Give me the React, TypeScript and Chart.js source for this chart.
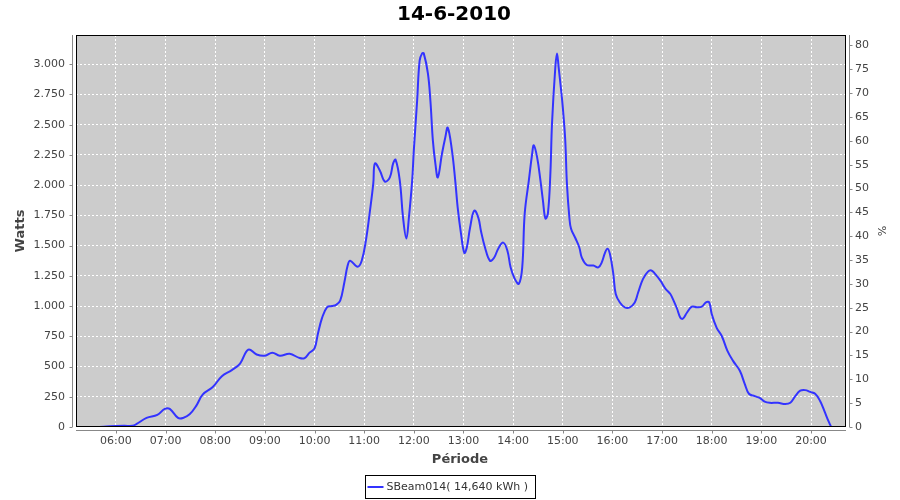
import React, { useEffect, useRef } from 'react';
import { Chart, registerables } from 'chart.js';

Chart.register(...registerables);

const chartTitle = '14-6-2010';
const seriesName = 'SBeam014( 14,640 kWh )';
const xAxisTitle = 'Période';
const leftAxisTitle = 'Watts';
const rightAxisTitle = '%';

const times = [
  '05:27', '05:45', '06:00', '06:10', '06:20', '06:25', '06:37', '06:50', '06:59', '07:05',
  '07:15', '07:21', '07:29', '07:37', '07:45', '07:57', '08:08', '08:20', '08:30', '08:40',
  '08:50', '09:00', '09:09', '09:18', '09:30', '09:42', '09:48', '09:54', '10:00', '10:04',
  '10:09', '10:15', '10:21', '10:26', '10:31', '10:36', '10:40', '10:43', '10:52', '10:57',
  '11:02', '11:07', '11:11', '11:13', '11:19', '11:25', '11:31', '11:35', '11:38', '11:43',
  '11:47', '11:51', '11:54', '11:58', '12:00', '12:04', '12:07', '12:10', '12:12', '12:17',
  '12:20', '12:23', '12:26', '12:29', '12:34', '12:38', '12:41', '12:46', '12:50', '12:53',
  '12:57', '13:01', '13:04', '13:08', '13:13', '13:18', '13:21', '13:26', '13:32', '13:37',
  '13:42', '13:48', '13:53', '13:57', '14:02', '14:07', '14:11', '14:14', '14:19', '14:23',
  '14:25', '14:29', '14:33', '14:36', '14:39', '14:42', '14:45', '14:47', '14:51', '14:53',
  '14:55', '14:58', '15:00', '15:03', '15:05', '15:08', '15:10', '15:15', '15:20', '15:23',
  '15:29', '15:37', '15:43', '15:47', '15:51', '15:54', '15:57', '16:01', '16:04', '16:09',
  '16:15', '16:21', '16:27', '16:31', '16:37', '16:43', '16:47', '16:51', '16:58', '17:04',
  '17:10', '17:13', '17:18', '17:22', '17:25', '17:30', '17:36', '17:42', '17:48', '17:53',
  '17:57', '18:00', '18:06', '18:12', '18:19', '18:26', '18:34', '18:40', '18:45', '18:52',
  '18:58', '19:04', '19:10', '19:20', '19:29', '19:35', '19:41', '19:47', '19:53', '19:59',
  '20:05', '20:11', '20:16', '20:21', '20:24',
];

const watts = [
  0, 3, 8, 10, 10, 25, 75, 100, 150, 150,
  75, 75, 105, 175, 270, 330, 420, 470, 525, 640,
  600, 590, 615, 590, 605, 570, 570, 615, 650, 770,
  900, 990, 1000, 1010, 1045, 1195, 1335, 1375, 1325, 1375,
  1540, 1790, 2015, 2180, 2120, 2030, 2065, 2180, 2210, 2040,
  1730, 1560, 1730, 2040, 2290, 2700, 3030, 3090, 3090, 2925,
  2700, 2370, 2180, 2065, 2260, 2395, 2475, 2290, 2040, 1815,
  1600, 1440, 1485, 1650, 1790, 1730, 1625, 1485, 1375, 1400,
  1475, 1525, 1460, 1320, 1225, 1185, 1320, 1765, 2040, 2260,
  2330, 2230, 2040, 1875, 1725, 1765, 2095, 2510, 2975, 3090,
  2975, 2785, 2645, 2370, 2015, 1730, 1640, 1565, 1485, 1400,
  1340, 1335, 1320, 1360, 1440, 1475, 1430, 1270, 1100, 1030,
  990, 990, 1030, 1110, 1225, 1285, 1295, 1270, 1210, 1145,
  1100, 1060, 980, 905, 895, 945, 995, 990, 995, 1030,
  1030, 935, 820, 755, 630, 545, 465, 355, 275, 255,
  240, 210, 200, 200, 190, 200, 255, 300, 305, 290,
  275, 215, 135, 50, 5,
];

const xTickLabels = [
  '06:00', '07:00', '08:00', '09:00', '10:00', '11:00', '12:00', '13:00',
  '14:00', '15:00', '16:00', '17:00', '18:00', '19:00', '20:00',
];
const wattTicks = [0, 250, 500, 750, 1000, 1250, 1500, 1750, 2000, 2250, 2500, 2750, 3000];
const pctTicks = [0, 5, 10, 15, 20, 25, 30, 35, 40, 45, 50, 55, 60, 65, 70, 75, 80];

const toMin = (s: string) => {
  const [h, m] = s.split(':').map(Number);
  return h * 60 + m;
};
const fmtTime = (v: number) => {
  const h = Math.floor(v / 60);
  const m = Math.round(v - h * 60);
  return String(h).padStart(2, '0') + ':' + String(m).padStart(2, '0');
};
const fmtWatts = (v: number) => {
  const s = String(Math.round(v));
  return s.replace(/\B(?=(\d{3})+(?!\d))/g, '.');
};

const FONT = '"DejaVu Sans", sans-serif';
const LINE_COLOR = '#3333ff';
const AXIS_GRAY = '#888888';
const TEXT_GRAY = '#444444';

const decorPlugin = {
  id: 'decor',
  beforeDraw(chart: any) {
    const { ctx, chartArea } = chart;
    const { left, right, top, bottom } = chartArea;
    ctx.save();
    ctx.fillStyle = '#ffffff';
    ctx.fillRect(0, 0, chart.width, chart.height);
    ctx.fillStyle = '#cccccc';
    ctx.fillRect(left, top, right - left, bottom - top);
    ctx.restore();
  },
  afterDraw(chart: any) {
    const { ctx, chartArea, scales } = chart;
    const { left, right, top, bottom } = chartArea;
    ctx.save();
    // plot border
    ctx.strokeStyle = '#000000';
    ctx.lineWidth = 1;
    ctx.strokeRect(left + 0.5, top + 0.5, right - left - 1, bottom - top - 1);

    // axis lines (offset) and tick marks
    ctx.strokeStyle = AXIS_GRAY;
    ctx.beginPath();
    const lx = left - 3.5;
    ctx.moveTo(lx, top);
    ctx.lineTo(lx, bottom);
    scales.y.ticks.forEach((t: any) => {
      const y = Math.round(scales.y.getPixelForValue(t.value)) + 0.5;
      ctx.moveTo(lx, y);
      ctx.lineTo(lx - 3, y);
    });
    const rx = right + 3.5;
    ctx.moveTo(rx, top);
    ctx.lineTo(rx, bottom);
    scales.y2.ticks.forEach((t: any) => {
      const y = Math.round(scales.y2.getPixelForValue(t.value)) + 0.5;
      ctx.moveTo(rx, y);
      ctx.lineTo(rx + 3, y);
    });
    const by = bottom + 3.5;
    ctx.moveTo(left, by);
    ctx.lineTo(right, by);
    scales.x.ticks.forEach((t: any) => {
      const x = Math.round(scales.x.getPixelForValue(t.value)) + 0.5;
      ctx.moveTo(x, by);
      ctx.lineTo(x, by + 3);
    });
    ctx.stroke();

    // title
    ctx.fillStyle = '#000000';
    ctx.font = 'bold 20px ' + FONT;
    ctx.textAlign = 'center';
    ctx.textBaseline = 'middle';
    ctx.fillText(chartTitle, 454, 15);

    // axis titles
    ctx.fillStyle = TEXT_GRAY;
    ctx.font = 'bold 13px ' + FONT;
    ctx.fillText(xAxisTitle, (left + right) / 2 - 1, 460);
    ctx.save();
    ctx.translate(21, (top + bottom) / 2);
    ctx.rotate(-Math.PI / 2);
    ctx.fillText(leftAxisTitle, 0, 0);
    ctx.restore();
    ctx.save();
    ctx.font = '11px ' + FONT;
    ctx.translate(881, (top + bottom) / 2);
    ctx.rotate(Math.PI / 2);
    ctx.fillText(rightAxisTitle, 0, 0);
    ctx.restore();

    // legend
    ctx.font = '11px ' + FONT;
    const tw = ctx.measureText(seriesName).width;
    const boxW = Math.round(tw + 28);
    const boxH = 23;
    const cx = 450;
    const bx = Math.round(cx - boxW / 2) + 0.5;
    const byy = 475.5;
    ctx.strokeStyle = '#000000';
    ctx.lineWidth = 1;
    ctx.strokeRect(bx, byy, boxW, boxH);
    ctx.strokeStyle = LINE_COLOR;
    ctx.lineWidth = 2;
    ctx.beginPath();
    ctx.moveTo(bx + 2, byy + 11.5);
    ctx.lineTo(bx + 18, byy + 11.5);
    ctx.stroke();
    ctx.fillStyle = '#333333';
    ctx.textAlign = 'left';
    ctx.fillText(seriesName, bx + 21, byy + 12);
    ctx.restore();
  },
};

export default function App() {
  const ref = useRef<HTMLCanvasElement | null>(null);

  useEffect(() => {
    const canvas = ref.current;
    if (!canvas) return;
    const points = times.map((t, i) => ({ x: toMin(t), y: watts[i] }));
    const xTickValues = xTickLabels.map(toMin);

    const chart = new Chart(canvas, {
      type: 'line',
      data: {
        datasets: [
          {
            label: seriesName,
            data: points,
            borderColor: LINE_COLOR,
            borderWidth: 2,
            pointRadius: 0,
            fill: false,
            tension: 0.4,
            yAxisID: 'y',
          },
        ],
      },
      options: {
        responsive: false,
        animation: false,
        events: [],
        layout: { padding: { top: 35, left: 0, right: 0, bottom: 0 } },
        plugins: {
          legend: { display: false },
          title: { display: false },
          tooltip: { enabled: false },
        },
        scales: {
          x: {
            type: 'linear',
            position: 'bottom',
            min: 311.7,
            max: 1242.3,
            afterBuildTicks: (scale: any) => {
              scale.ticks = xTickValues.map((v) => ({ value: v }));
            },
            afterFit: (scale: any) => {
              scale.height = 73;
            },
            ticks: {
              callback: (v: any) => fmtTime(Number(v)),
              font: { family: FONT, size: 11 },
              color: TEXT_GRAY,
              padding: 8,
              maxRotation: 0,
              autoSkip: false,
            },
            grid: { color: '#ffffff', lineWidth: 1, drawTicks: false },
            border: { display: false, dash: [2, 2] },
          },
          y: {
            type: 'linear',
            position: 'left',
            min: 0,
            max: 3242,
            afterBuildTicks: (scale: any) => {
              scale.ticks = wattTicks.map((v) => ({ value: v }));
            },
            afterFit: (scale: any) => {
              scale.width = 76;
            },
            ticks: {
              callback: (v: any) => fmtWatts(Number(v)),
              font: { family: FONT, size: 11 },
              color: TEXT_GRAY,
              padding: 11,
              autoSkip: false,
            },
            grid: { color: '#ffffff', lineWidth: 1, drawTicks: false },
            border: { display: false, dash: [2, 2] },
          },
          y2: {
            type: 'linear',
            position: 'right',
            min: 0,
            max: 82.2,
            afterBuildTicks: (scale: any) => {
              scale.ticks = pctTicks.map((v) => ({ value: v }));
            },
            afterFit: (scale: any) => {
              scale.width = 54;
            },
            ticks: {
              callback: (v: any) => String(v),
              font: { family: FONT, size: 11 },
              color: TEXT_GRAY,
              padding: 9,
              autoSkip: false,
            },
            grid: { drawOnChartArea: false, drawTicks: false },
            border: { display: false },
          },
        },
      },
      plugins: [decorPlugin],
    } as any);

    return () => chart.destroy();
  }, []);

  return (
    <div style={{ position: 'fixed', left: 0, top: 0, width: 900, height: 500, background: '#fff' }}>
      <canvas ref={ref} width={900} height={500} style={{ width: 900, height: 500, display: 'block' }} />
    </div>
  );
}
